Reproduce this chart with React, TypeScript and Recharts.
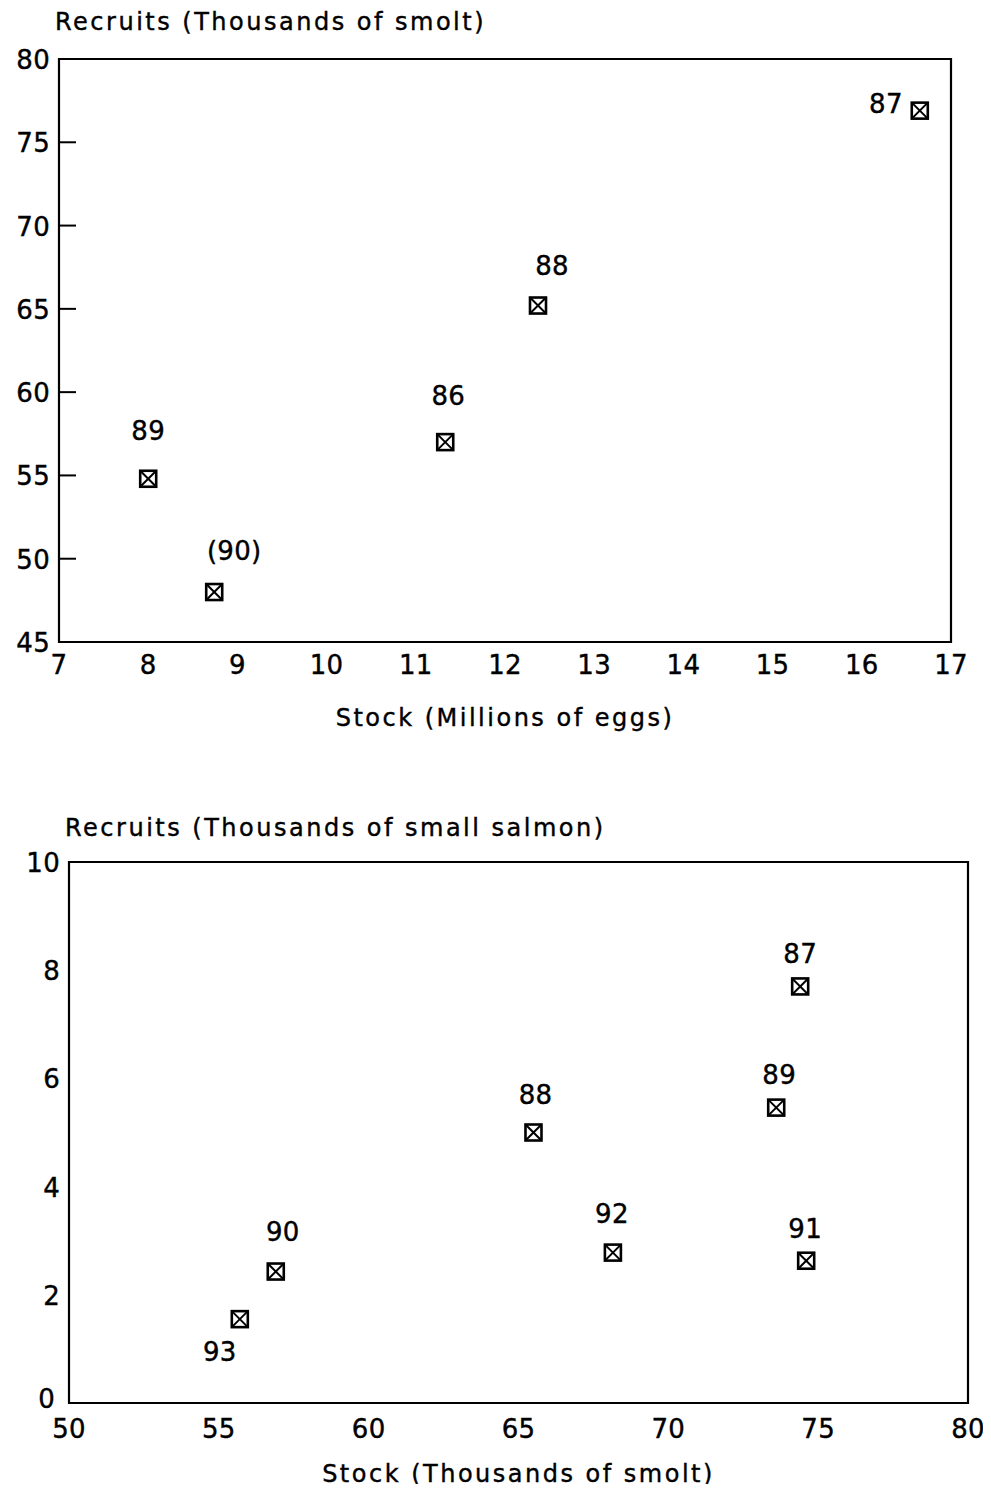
import React from "react";
import {
  ScatterChart,
  Scatter,
  XAxis,
  YAxis,
  ReferenceArea,
  Label,
} from "recharts";

// Top panel: eggs -> smolt
const EGG_YEARS = ["89", "(90)", "86", "88", "87"];
const EGG_STOCK = [8.0, 8.74, 11.33, 12.37, 16.65];
const SMOLT_RECRUITS = [54.8, 48.0, 57.0, 65.2, 76.9];
const EGG_X_TICKS = [7, 8, 9, 10, 11, 12, 13, 14, 15, 16, 17];
const SMOLT_Y_TICKS = [45, 50, 55, 60, 65, 70, 75, 80];

// Bottom panel: smolt -> small salmon
const SMOLT_YEARS = ["93", "90", "88", "92", "89", "87", "91"];
const SMOLT_STOCK = [55.7, 56.9, 65.5, 68.15, 73.6, 74.4, 74.6];
const SALMON_RECRUITS = [1.55, 2.43, 5.0, 2.78, 5.46, 7.7, 2.63];
const SMOLT_X_TICKS = [50, 55, 60, 65, 70, 75, 80];
const SALMON_Y_TICKS = [0, 2, 4, 6, 8, 10];

const FONT = "'DejaVu Sans', sans-serif";
const TITLE_STYLE = { fontFamily: FONT, fontSize: 24, letterSpacing: 2.5, fill: "#000", stroke: "#000", strokeWidth: 0.4 };
const TICK_STYLE = { fontFamily: FONT, fontSize: 26, letterSpacing: 0.3, fill: "#000", stroke: "#000", strokeWidth: 0.4 };

// label offsets relative to the marker (layout only)
const TOP_LABEL_OFFSET: Record<string, [number, number, string]> = {
  "89": [0, -48, "middle"],
  "(90)": [20, -41, "middle"],
  "86": [3, -46, "middle"],
  "88": [14, -40, "middle"],
  "87": [-17, -7, "end"],
};
const BOTTOM_LABEL_OFFSET: Record<string, [number, number, string]> = {
  "93": [-20, 33, "middle"],
  "90": [7, -40, "middle"],
  "88": [2, -38, "middle"],
  "92": [-1, -39, "middle"],
  "89": [3, -33, "middle"],
  "87": [0, -32, "middle"],
  "91": [-1, -32, "middle"],
};

const zip = (xs: number[], ys: number[], labels: string[]) =>
  xs.map((x, i) => ({ x, y: ys[i], label: labels[i] }));

const topData = zip(EGG_STOCK, SMOLT_RECRUITS, EGG_YEARS);
const bottomData = zip(SMOLT_STOCK, SALMON_RECRUITS, SMOLT_YEARS);

function makeMarker(offsets: Record<string, [number, number, string]>) {
  return (props: any) => {
    const { cx, cy, payload } = props;
    const s = 8;
    const [dx, dy, anchor] = offsets[payload.label] ?? [0, -38, "middle"];
    return (
      <g>
        <rect x={cx - s} y={cy - s} width={2 * s} height={2 * s} fill="#fff" stroke="#000" strokeWidth={2.6} />
        <line x1={cx - s} y1={cy - s} x2={cx + s} y2={cy + s} stroke="#000" strokeWidth={2} />
        <line x1={cx + s} y1={cy - s} x2={cx - s} y2={cy + s} stroke="#000" strokeWidth={2} />
        <text x={cx + dx} y={cy + dy + 9} textAnchor={anchor as any} style={TICK_STYLE}>
          {payload.label}
        </text>
      </g>
    );
  };
}

const makeXTick = (dy: number) => (props: any) => {
  const { x, y, payload } = props;
  return (
    <text x={x} y={y + dy} textAnchor="middle" style={TICK_STYLE}>
      {payload.value}
    </text>
  );
};

const makeYTick = (inwardTicks: boolean, edge: number[], cornerNudge = 0) => (props: any) => {
  const { x, y, payload } = props;
  const nudge = payload.value === 0 ? cornerNudge : 0;
  return (
    <g>
      {inwardTicks && !edge.includes(payload.value) && (
        <line x1={x} y1={y} x2={x + 17} y2={y} stroke="#000" strokeWidth={2} />
      )}
      <text x={x - 9 - nudge} y={y + 10 - nudge} textAnchor="end" style={TICK_STYLE}>
        {payload.value}
      </text>
    </g>
  );
};

export default function App() {
  return (
    <div style={{ position: "relative", width: 991, height: 1492, margin: -8, background: "#fff" }}>
      <div style={{ position: "absolute", left: 0, top: 0 }}>
        <ScatterChart width={991} height={760} margin={{ top: 59, right: 40, left: 0, bottom: 0 }}>
          <XAxis
            type="number"
            dataKey="x"
            domain={[7, 17]}
            ticks={EGG_X_TICKS}
            height={118}
            axisLine={false}
            tickLine={false}
            tickSize={0}
            tickMargin={0}
            tick={makeXTick(32)}
            interval={0}
          >
            <Label
              content={(p: any) => (
                <text x={p.viewBox.x + p.viewBox.width / 2} y={p.viewBox.y + 84} textAnchor="middle" style={TITLE_STYLE}>
                  Stock (Millions of eggs)
                </text>
              )}
            />
          </XAxis>
          <YAxis
            type="number"
            dataKey="y"
            domain={[45, 80]}
            ticks={SMOLT_Y_TICKS}
            width={59}
            axisLine={false}
            tickLine={false}
            tickSize={0}
            tickMargin={0}
            tick={makeYTick(true, [45, 80])}
            interval={0}
          >
            <Label
              content={(p: any) => (
                <text x={55} y={p.viewBox.y - 29} textAnchor="start" style={TITLE_STYLE}>
                  Recruits (Thousands of smolt)
                </text>
              )}
            />
          </YAxis>
          <ReferenceArea x1={7} x2={17} y1={45} y2={80} fill="none" stroke="#000" strokeWidth={2.2} />
          <Scatter data={topData} isAnimationActive={false} shape={makeMarker(TOP_LABEL_OFFSET)} />
        </ScatterChart>
      </div>
      <div style={{ position: "absolute", left: 0, top: 760 }}>
        <ScatterChart width={991} height={732} margin={{ top: 102, right: 23, left: 0, bottom: 0 }}>
          <XAxis
            type="number"
            dataKey="x"
            domain={[50, 80]}
            ticks={SMOLT_X_TICKS}
            height={89}
            axisLine={false}
            tickLine={false}
            tickSize={0}
            tickMargin={0}
            tick={makeXTick(35)}
            interval={0}
          >
            <Label
              content={(p: any) => (
                <text x={p.viewBox.x + p.viewBox.width / 2} y={p.viewBox.y + 79} textAnchor="middle" style={TITLE_STYLE}>
                  Stock (Thousands of smolt)
                </text>
              )}
            />
          </XAxis>
          <YAxis
            type="number"
            dataKey="y"
            domain={[0, 10]}
            ticks={SALMON_Y_TICKS}
            width={69}
            axisLine={false}
            tickLine={false}
            tickSize={0}
            tickMargin={0}
            tick={makeYTick(false, [], 5)}
            interval={0}
          >
            <Label
              content={(p: any) => (
                <text x={65} y={p.viewBox.y - 26} textAnchor="start" style={TITLE_STYLE}>
                  Recruits (Thousands of small salmon)
                </text>
              )}
            />
          </YAxis>
          <ReferenceArea x1={50} x2={80} y1={0} y2={10} fill="none" stroke="#000" strokeWidth={2.2} />
          <Scatter data={bottomData} isAnimationActive={false} shape={makeMarker(BOTTOM_LABEL_OFFSET)} />
        </ScatterChart>
      </div>
    </div>
  );
}
